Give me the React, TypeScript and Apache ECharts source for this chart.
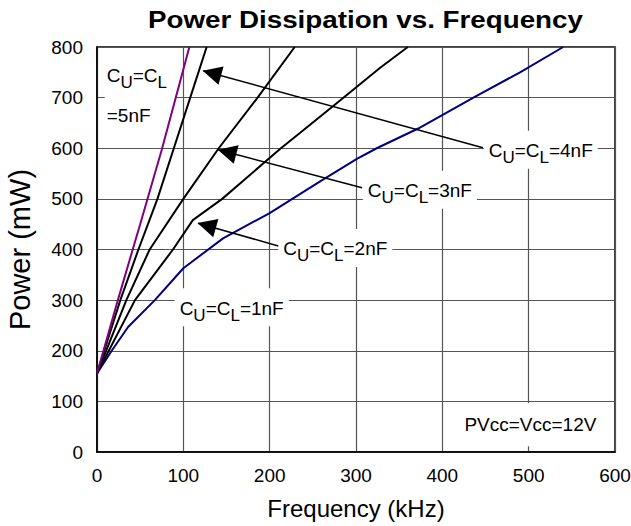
import React, { useEffect, useRef } from 'react';
import * as echarts from 'echarts';

// Frequency (kHz) / Power (mW) readings per curve
const nf1Freq = [0, 17, 36, 67, 100, 146, 200, 258, 301, 324, 372, 436, 490, 540];
const nf1Power = [155, 200, 247, 300, 363, 422, 472, 534, 579, 600, 639, 700, 750, 800];
const nf2Freq = [0, 44, 88, 111, 145, 213, 235, 279, 328, 360];
const nf2Power = [155, 300, 400, 458, 500, 600, 630, 691, 759, 800];
const nf3Freq = [0, 34, 61, 100, 141, 186, 229];
const nf3Power = [155, 300, 400, 500, 600, 700, 800];
const nf4Freq = [0, 27, 48, 70, 89, 108, 127];
const nf4Power = [155, 300, 400, 500, 600, 700, 800];
const nf5Freq = [0, 25, 50, 75, 107];
const nf5Power = [155, 305, 450, 597, 800];

const xTickValues = [0, 100, 200, 300, 400, 500, 600];
const yTickValues = [0, 100, 200, 300, 400, 500, 600, 700, 800];

// annotation anchor points (data units)
const arrowFrom = [[447, 601], [307, 522], [210, 407]];
const arrowTo = [[123, 753], [140.5, 597], [117, 452]];
const labelTexts = ['4nF', '3nF', '2nF', '1nF'];
const labelAt = [[514, 597], [374, 518], [276, 403], [156, 286]];
const fiveLabelAt = [9, 692];
const supplyText = 'PVcc=Vcc=12V';
const supplyAt = [502, 54];
const titleText = 'Power Dissipation vs. Frequency';

const FONT = '"Liberation Sans", Arial, Helvetica, sans-serif';

const zip = (xs: number[], ys: number[]) => xs.map((x, i) => [x, ys[i]]);

const rich = {
  n: { fontSize: 19, fontFamily: FONT, color: '#000', lineHeight: 28 },
  s: { fontSize: 17, fontFamily: FONT, color: '#000', lineHeight: 28, padding: [14, 0, 0, 0] },
  m: { fontSize: 19, fontFamily: FONT, color: '#000', lineHeight: 52 },
};

const capLabel = (v: string) => `{n|C}{s|U}{n|=C}{s|L}{n|=${v}}`;

export default function App() {
  const ref = useRef<HTMLDivElement>(null);
  useEffect(() => {
    const chart = echarts.init(ref.current!, null, { renderer: 'svg' });
    const lineSeries = (name: string, xs: number[], ys: number[], color: string) => ({
      name,
      type: 'line',
      data: zip(xs, ys),
      showSymbol: false,
      symbol: 'none',
      smooth: false,
      lineStyle: { color, width: 2 },
      z: 3,
    });
    const markData: any[] = labelTexts.map((t, i) => ({
      coord: labelAt[i],
      symbol: 'rect',
      symbolSize: 0,
      label: {
        show: true,
        position: 'inside',
        formatter: capLabel(t),
        rich,
        backgroundColor: '#fff',
        padding: [6, 5, 4, 5],
      },
    }));
    markData.push({
      coord: fiveLabelAt,
      symbol: 'rect',
      symbolSize: 0,
      label: {
        show: true,
        position: 'inside',
        align: 'left',
        formatter: '{n|C}{s|U}{n|=C}{s|L}\n{m|=5nF}',
        rich,
        backgroundColor: '#fff',
        padding: [2, 8, 2, 2],
      },
    });
    markData.push({
      coord: supplyAt,
      symbol: 'rect',
      symbolSize: 0,
      label: {
        show: true,
        position: 'inside',
        formatter: supplyText,
        fontSize: 19,
        fontFamily: FONT,
        color: '#000',
        backgroundColor: '#fff',
        padding: [12, 8, 12, 8],
      },
    });

    chart.setOption({
      animation: false,
      backgroundColor: '#fff',
      graphic: [
        {
          type: 'text',
          x: 148,
          y: 8,
          scaleX: 1.157,
          style: {
            text: titleText,
            font: `bold 24px ${FONT}`,
            fill: '#000',
            textAlign: 'left',
            textVerticalAlign: 'top',
          },
        },
      ],
      grid: {
        left: 97,
        right: 16,
        top: 47,
        bottom: 74,
        containLabel: false,
        outerBoundsMode: 'none',
        show: true,
        borderColor: '#000',
        borderWidth: 1.5,
        backgroundColor: 'transparent',
      },
      xAxis: {
        type: 'value',
        min: xTickValues[0],
        max: xTickValues[xTickValues.length - 1],
        interval: 100,
        name: 'Frequency (kHz)',
        nameLocation: 'middle',
        nameGap: 44,
        nameTextStyle: { fontSize: 24, fontFamily: FONT, color: '#000' },
        axisLine: { show: true, lineStyle: { color: '#000', width: 1.5 } },
        axisTick: { show: false },
        axisLabel: { fontSize: 19, fontFamily: FONT, color: '#000', margin: 14 },
        splitLine: { show: true, lineStyle: { color: '#555', width: 1.2 } },
      },
      yAxis: {
        type: 'value',
        min: yTickValues[0],
        max: yTickValues[yTickValues.length - 1],
        interval: 100,
        name: 'Power (mW)',
        nameLocation: 'middle',
        nameGap: 63,
        nameTextStyle: { fontSize: 29, fontFamily: FONT, color: '#000' },
        axisLine: { show: true, lineStyle: { color: '#000', width: 1.5 } },
        axisTick: { show: false },
        axisLabel: { fontSize: 19, fontFamily: FONT, color: '#000', margin: 14 },
        splitLine: { show: true, lineStyle: { color: '#555', width: 1.2 } },
      },
      series: [
        {
          name: 'labels',
          type: 'scatter',
          data: [],
          z: 1,
          markPoint: { data: markData, z: 1 },
        },
        lineSeries('1nF', nf1Freq, nf1Power, '#000080'),
        lineSeries('2nF', nf2Freq, nf2Power, '#000'),
        lineSeries('3nF', nf3Freq, nf3Power, '#000'),
        lineSeries('4nF', nf4Freq, nf4Power, '#000'),
        lineSeries('5nF', nf5Freq, nf5Power, '#800080'),
        {
          name: 'arrows',
          type: 'scatter',
          data: [],
          z: 6,
          markLine: {
            silent: true,
            symbol: ['none', 'triangle'],
            symbolSize: 19,
            symbolOffset: [0, [0, 9]],
            lineStyle: { color: '#000', width: 1.5, type: 'solid' },
            itemStyle: { color: '#000' },
            label: { show: false },
            data: arrowFrom.map((f, i) => [{ coord: f }, { coord: arrowTo[i] }]),
            z: 6,
          },
        },
      ],
    });
    return () => chart.dispose();
  }, []);
  return <div ref={ref} style={{ position: 'fixed', left: 0, top: 0, width: 631, height: 526 }} />;
}
